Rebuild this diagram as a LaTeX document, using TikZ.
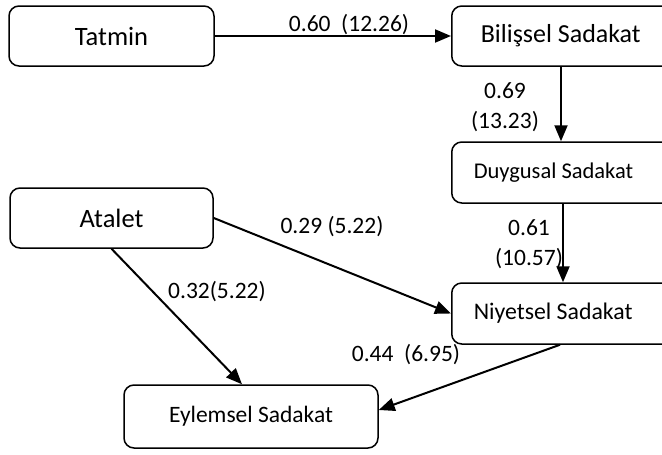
\documentclass[tikz,border=0pt]{standalone}
\usepackage{fontspec}
\setmainfont{Carlito}
\usetikzlibrary{arrows.meta}
\newcommand{\lefttext}[1]{\makebox[200pt][l]{#1}}
\begin{document}
\begin{tikzpicture}[x=1pt,y=-1pt,
  box/.style={draw, line width=1.5pt, rounded corners=10pt, inner sep=0pt},
  rbox/.style={box, anchor=west},
  arr/.style={line width=2pt, -{Triangle[length=16pt,width=13pt]}},
  lbl/.style={inner sep=0pt, font=\fontsize{23.5}{30}\selectfont, align=center}]
\clip (0,0) rectangle (662,455);
\fill[white] (0,0) rectangle (662,455);
% boxes
\node[box, minimum width=205pt, minimum height=60pt, font=\fontsize{26.5}{30}\selectfont] (tatmin) at (111.5,36) {Tatmin};
\node[box, minimum width=203pt, minimum height=60pt, font=\fontsize{26.5}{30}\selectfont] (atalet) at (111.5,218) {Atalet};
\node[box, minimum width=254pt, minimum height=63pt, font=\fontsize{23.5}{28}\selectfont] (eylem) at (251,416.5) {Eylemsel Sadakat};
\node[rbox, inner xsep=29pt, minimum height=60pt, font=\fontsize{26}{30}\selectfont] (bilis) at (451,36) {\lefttext{Bilişsel Sadakat}};
\node[rbox, inner xsep=22pt, minimum height=61pt, font=\fontsize{22.5}{28}\selectfont] (duygu) at (451,172.5) {\lefttext{Duygusal Sadakat}};
\node[rbox, inner xsep=22pt, minimum height=61pt, font=\fontsize{23.8}{28}\selectfont] (niyet) at (451,313.5) {\lefttext{Niyetsel Sadakat}};
% helper columns
\coordinate (c1) at (561,0);
\coordinate (c2) at (563,0);
% arrows
\draw[arr] (tatmin.east) -- (bilis.west);
\draw[arr] (c1 |- bilis.south) -- (c1 |- duygu.north);
\draw[arr] (c2 |- duygu.south) -- (c2 |- niyet.north);
\draw[arr] (atalet.east) -- (niyet.west);
\draw[arr] (atalet.south) -- ([xshift=-9pt]eylem.north);
\draw[arr] ([xshift=109pt]niyet.south west) -- ([yshift=6.5pt]eylem.east);
% labels
\node[lbl] (l1) at (349,25) {0.60~~(12.26)};
\node[lbl] (l2) at (505,107) {0.69\\(13.23)};
\node[lbl] (l3) at (529,244) {0.61\\(10.57)};
\node[lbl] (l4) at (332,227) {0.29 (5.22)};
\node[lbl] (l5) at (217,292) {0.32(5.22)};
\node[lbl] (l6) at (406,355) {0.44~~(6.95)};
\end{tikzpicture}
\end{document}
